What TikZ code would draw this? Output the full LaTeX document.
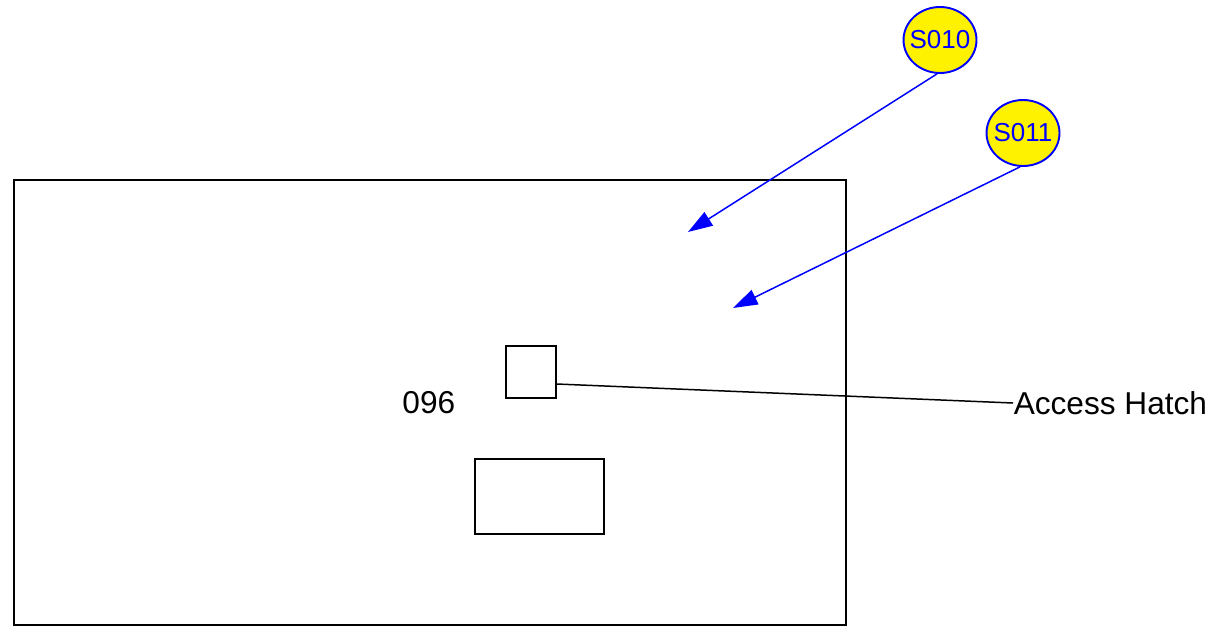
\documentclass[tikz,border=0pt]{standalone}
\usepackage{fontspec}
\setmainfont{Liberation Sans}
\usepackage{tikz}
\usetikzlibrary{arrows.meta, shapes.geometric}

\begin{document}
\begin{tikzpicture}[x=0.02cm, y=-0.02cm, line width=0.85pt,
    tag/.style={ellipse, draw=blue, fill=yellow, text=blue, inner xsep=-3pt, inner ysep=0pt, line width=1.1pt,
        minimum width=1.46cm, minimum height=1.32cm, font=\fontsize{14.8}{16}\selectfont},
    pointer/.style={blue, -{Triangle[length=14pt, width=9pt]}},
    label/.style={font=\fontsize{18}{20}\selectfont, inner sep=0pt}]
            \useasboundingbox (0,0) rectangle (1226,629);
            \node[draw, rectangle, minimum width=16.64cm, minimum height=8.9cm] at (430, 402.5) (room) {};
            \node[draw, rectangle, minimum width=1cm, minimum height=1.04cm] at (531, 372) (hatch) {};
            \node[draw, rectangle, minimum width=2.58cm, minimum height=1.5cm] at (539.5, 496.5) (slab) {};
            \node[tag] at (940, 40)   (s010) {S010};
            \node[tag] at (1023, 133)   (s011) {S011};
            \node[label, anchor=east] at (456, 403)   (num) {096};
            \node[label, anchor=west] at (1013, 403)   (hatchlbl) {Access Hatch};
            \coordinate (tip1) at (688, 232);
            \coordinate (tip2) at (733, 308);
        
            \draw [pointer] (s010.265) -- (tip1);
            \draw [pointer] (s011.265) -- (tip2);
            \draw (hatch.-25) -- (hatchlbl.west);
        \end{tikzpicture}
\end{document}
